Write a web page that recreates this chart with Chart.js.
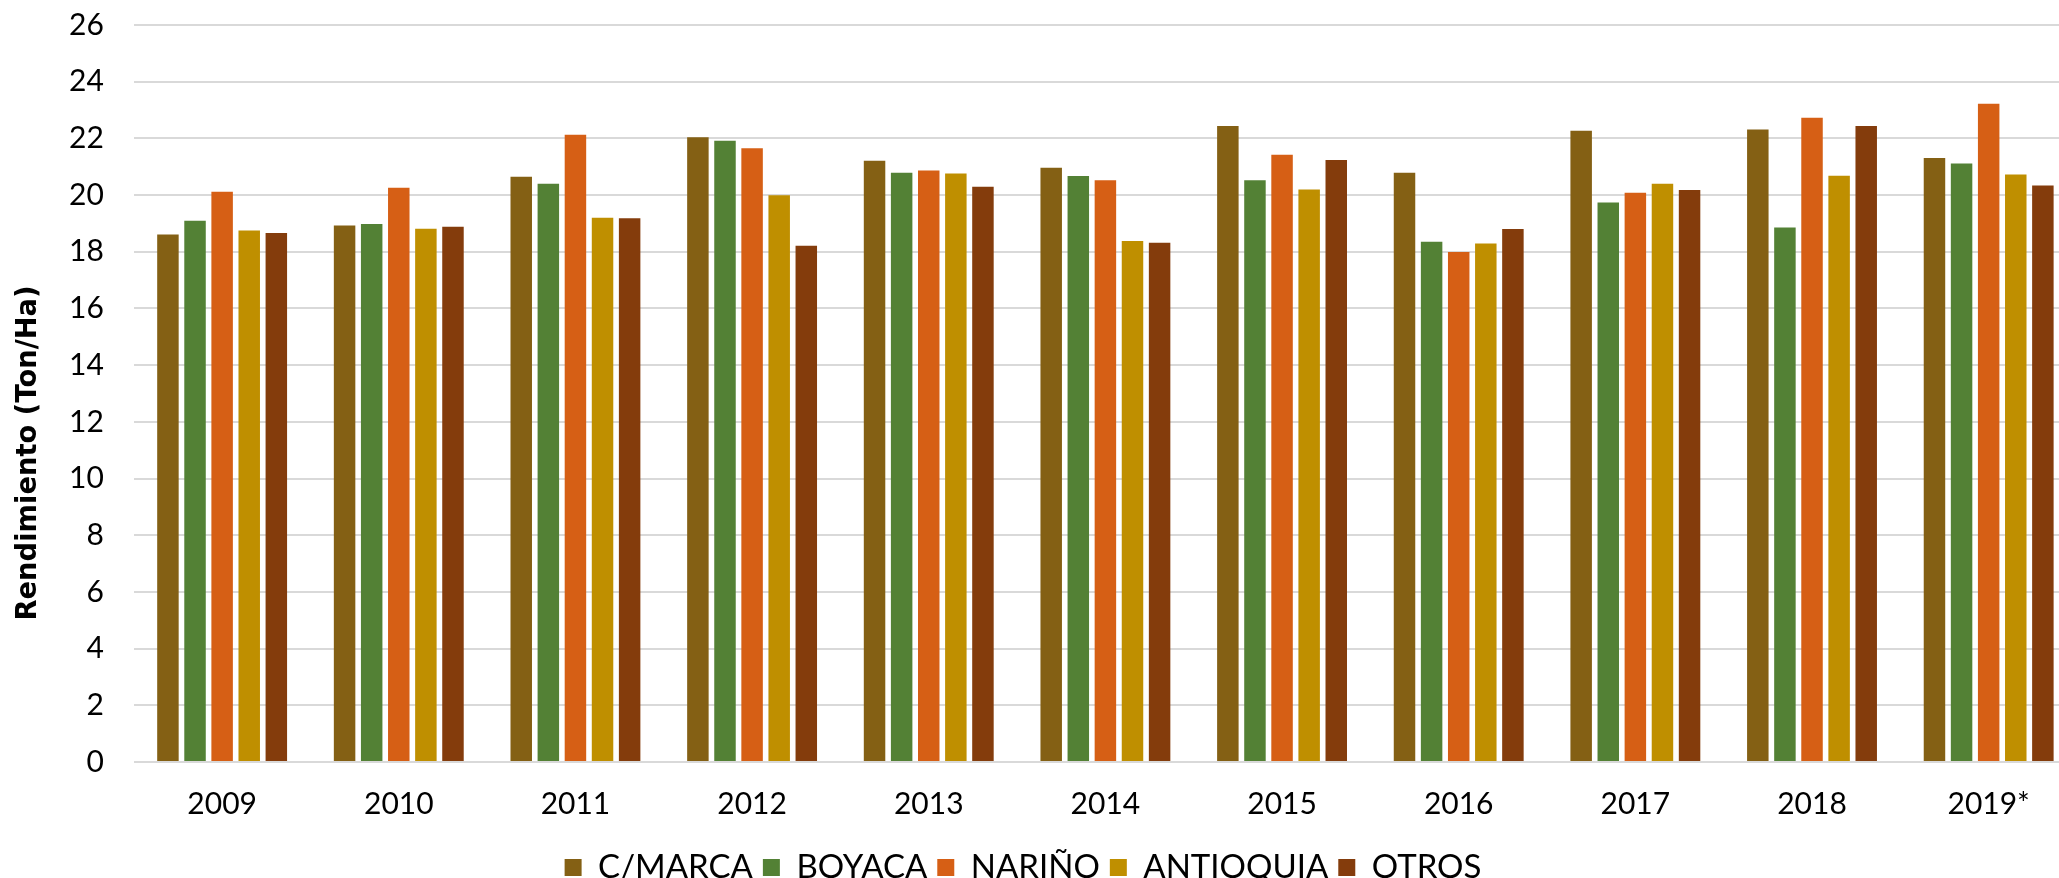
<!DOCTYPE html>
<html>
<head>
<meta charset="utf-8">
<script src="https://cdn.jsdelivr.net/npm/chart.js@4"></script>
<style>
  html, body { margin: 0; padding: 0; background: #ffffff; overflow: hidden; }
  #wrap { position: relative; width: 2078px; height: 878px; }
</style>
</head>
<body>
<div id="wrap"><canvas id="c" width="2078" height="878"></canvas></div>
<script>
const categories = ["2009", "2010", "2011", "2012", "2013", "2014", "2015", "2016", "2017", "2018", "2019*"];
const cmarca    = [18.61, 18.93, 20.65, 22.04, 21.21, 20.96, 22.44, 20.79, 22.27, 22.31, 21.31];
const boyaca    = [19.09, 18.98, 20.40, 21.92, 20.79, 20.67, 20.52, 18.35, 19.74, 18.86, 21.11];
const narino    = [20.12, 20.26, 22.13, 21.65, 20.87, 20.52, 21.42, 17.99, 20.08, 22.73, 23.22];
const antioquia = [18.75, 18.81, 19.20, 19.99, 20.76, 18.38, 20.20, 18.29, 20.40, 20.68, 20.73];
const otros     = [18.66, 18.88, 19.18, 18.21, 20.29, 18.32, 21.24, 18.80, 20.18, 22.44, 20.34];
const seriesNames = ["C/MARCA", "BOYACA", "NARIÑO", "ANTIOQUIA", "OTROS"];
const yTitle = "Rendimiento (Ton/Ha)";

const colors = ["#846014", "#538135", "#D65F15", "#BF8F00", "#843C0C"];
const allSeries = [cmarca, boyaca, narino, antioquia, otros];

const yTitlePlugin = {
  id: 'yTitlePlugin',
  afterDraw(chart) {
    const ctx = chart.ctx;
    ctx.save();
    ctx.font = "bold 28px 'DejaVu Sans'";
    const w = ctx.measureText(yTitle).width;
    const sx = Math.min(1.3, Math.max(0.7, 335 / w));
    ctx.translate(29, 453);
    ctx.rotate(-Math.PI / 2);
    ctx.scale(sx, 1);
    ctx.fillStyle = "#000000";
    ctx.textAlign = "center";
    ctx.textBaseline = "middle";
    ctx.fillText(yTitle, 0, 0);
    ctx.restore();
  }
};

const legendShift = {
  id: 'legendShift',
  afterLayout(chart) {
    const lg = chart.legend;
    if (lg) {
      lg.left -= 35; lg.right -= 35;
      lg.top += 6; lg.bottom += 6;
    }
  }
};

new Chart(document.getElementById('c'), {
  type: 'bar',
  data: {
    labels: categories,
    datasets: allSeries.map((d, i) => ({
      label: seriesNames[i],
      data: d,
      backgroundColor: colors[i],
      borderWidth: 0,
      categoryPercentage: 0.767,
      barPercentage: 0.793
    }))
  },
  options: {
    responsive: false,
    animation: false,
    layout: { padding: { left: 39, right: 1, top: 25, bottom: -10 } },
    plugins: {
      legend: {
        position: 'bottom',
        labels: {
          boxWidth: 17,
          boxHeight: 17,
          padding: 10,
          color: '#000000',
          font: { family: 'Lato', size: 33 }
        }
      },
      tooltip: { enabled: false }
    },
    scales: {
      x: {
        grid: { display: false, drawTicks: false },
        border: { display: false },
        ticks: { color: '#000000', padding: 24, font: { family: 'Lato', size: 30 } },
        afterFit(scale) { scale.height -= 11; }
      },
      y: {
        min: 0,
        max: 26,
        grid: { color: '#d9d9d9', lineWidth: 2, drawTicks: false },
        border: { display: false },
        ticks: { stepSize: 2, color: '#000000', padding: 30, font: { family: 'Lato', size: 30 } },
        afterFit(scale) { scale.paddingTop = 0; scale.paddingBottom = 0; }
      }
    }
  },
  plugins: [yTitlePlugin, legendShift]
});
</script>
</body>
</html>
